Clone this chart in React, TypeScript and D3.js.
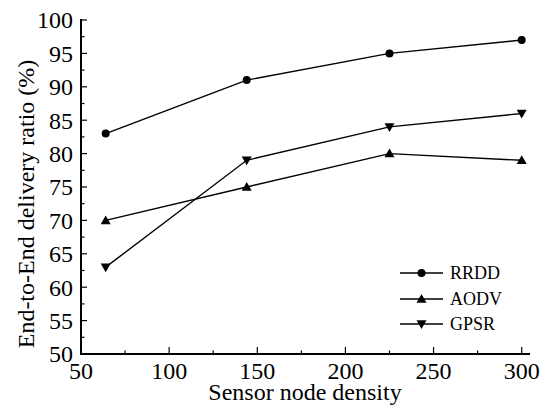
import React from "react";
import * as d3 from "d3";

const xValues = [64, 144, 225, 300];
const rrdd = [83, 91, 95, 97];
const aodv = [70, 75, 80, 79];
const gpsr = [63, 79, 84, 86];
const xTicks = [50, 100, 150, 200, 250, 300];
const yTicks = [50, 55, 60, 65, 70, 75, 80, 85, 90, 95, 100];
const seriesNames = ["RRDD", "AODV", "GPSR"];
const seriesMarkers = ["circle", "up", "down"];

const W = 548;
const H = 411;
const FONT = '"Liberation Serif", "Times New Roman", Times, Tinos';

function Marker({ type, x, y }: { type: string; x: number; y: number }) {
  if (type === "circle") return <circle cx={x} cy={y} r={4} fill="#000" />;
  const s = 5;
  if (type === "up")
    return <path d={`M${x},${y - s}L${x + s},${y + s * 0.75}L${x - s},${y + s * 0.75}Z`} fill="#000" />;
  return <path d={`M${x},${y + s}L${x + s},${y - s * 0.75}L${x - s},${y - s * 0.75}Z`} fill="#000" />;
}

function T(props: any) {
  const { children, ...rest } = props;
  return (
    <text {...rest} fontFamily="Liberation Serif" style={{ fontFamily: FONT }}>
      {children}
    </text>
  );
}

export default function App() {
  const x = d3.scaleLinear().domain([50, 300]).range([81, 521.7]);
  const y = d3.scaleLinear().domain([50, 100]).range([354, 20]);
  const xEnd = 530;
  const data = [rrdd, aodv, gpsr];
  const line = d3
    .line<number>()
    .x((_, i) => x(xValues[i]))
    .y((d) => y(d));
  const xMinor = d3.range(75, 301, 50);
  const yMinor = d3.range(52.5, 100, 5);
  const legendY = [273, 299, 324];

  return (
    <svg width={W} height={H} style={{ position: "absolute", left: 0, top: 0 }}>
      <style>{`text { font-family: ${FONT}; }`}</style>
      <rect width={W} height={H} fill="#fff" />
      {/* axes */}
      <line x1={81} x2={xEnd} y1={354} y2={354} stroke="#000" strokeWidth={2} />
      <line x1={81} x2={81} y1={19} y2={355} stroke="#000" strokeWidth={2} />
      {xTicks.map((t) => (
        <g key={"xt" + t}>
          <line x1={x(t)} x2={x(t)} y1={354} y2={347} stroke="#000" strokeWidth={1.2} />
          <T x={x(t)} y={379} fontSize={24} textAnchor="middle">
            {t}
          </T>
        </g>
      ))}
      {xMinor.map((t) => (
        <line key={"xm" + t} x1={x(t)} x2={x(t)} y1={354} y2={350.5} stroke="#000" strokeWidth={1.2} />
      ))}
      {yTicks.map((t) => (
        <g key={"yt" + t}>
          <line x1={81} x2={87} y1={y(t)} y2={y(t)} stroke="#000" strokeWidth={1.2} />
          <T x={73} y={y(t)} dy="0.35em" fontSize={24} textAnchor="end">
            {t}
          </T>
        </g>
      ))}
      {yMinor.map((t) => (
        <line key={"ym" + t} x1={81} x2={84.5} y1={y(t)} y2={y(t)} stroke="#000" strokeWidth={1.2} />
      ))}
      <T x={305} y={400} fontSize={24} textAnchor="middle">
        Sensor node density
      </T>
      <T transform={`translate(34, ${204}) rotate(-90)`} fontSize={24} textAnchor="middle">
        End-to-End delivery ratio (%)
      </T>
      {/* series */}
      {data.map((s, si) => (
        <g key={"s" + si}>
          <path d={line(s) || ""} fill="none" stroke="#000" strokeWidth={1.4} />
          {s.map((v, i) => (
            <Marker key={i} type={seriesMarkers[si]} x={x(xValues[i])} y={y(v)} />
          ))}
        </g>
      ))}
      {/* legend */}
      {seriesNames.map((n, i) => (
        <g key={"l" + n}>
          <line x1={400} x2={443} y1={legendY[i]} y2={legendY[i]} stroke="#000" strokeWidth={1.4} />
          <Marker type={seriesMarkers[i]} x={421.5} y={legendY[i]} />
          <T x={450} y={legendY[i]} dy="0.35em" fontSize={18}>
            {n}
          </T>
        </g>
      ))}
    </svg>
  );
}
